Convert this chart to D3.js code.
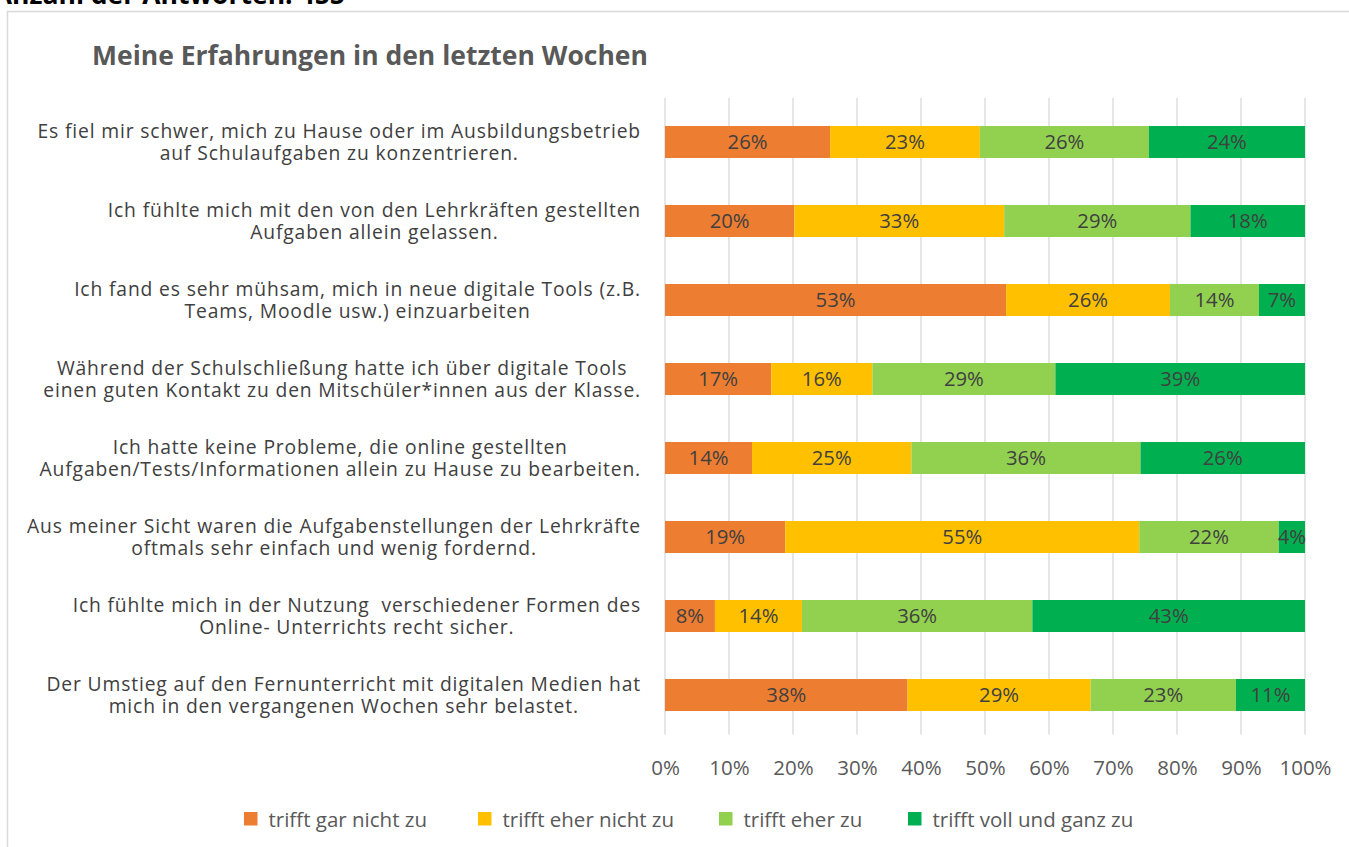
<!DOCTYPE html>
<html><head><meta charset="utf-8">
<script src="https://cdn.jsdelivr.net/npm/d3@7"></script>
<style>
html,body{margin:0;padding:0;background:#fff;overflow:hidden;}
svg{display:block;font-family:"Open Sans","Noto Sans",sans-serif;}
</style></head>
<body>
<svg id="chart" width="1349" height="847"></svg>
<script>
const title = "Meine Erfahrungen in den letzten Wochen";
const topNote = "Anzahl der Antworten: 455";
const categories = [
  ["Es fiel mir schwer, mich zu Hause oder im Ausbildungsbetrieb", "auf Schulaufgaben zu konzentrieren."],
  ["Ich fühlte mich mit den von den Lehrkräften gestellten", "Aufgaben allein gelassen."],
  ["Ich fand es sehr mühsam, mich in neue digitale Tools (z.B.", "Teams, Moodle usw.) einzuarbeiten"],
  ["Während der Schulschließung hatte ich über digitale Tools", "einen guten Kontakt zu den Mitschüler*innen aus der Klasse."],
  ["Ich hatte keine Probleme, die online gestellten", "Aufgaben/Tests/Informationen allein zu Hause zu bearbeiten."],
  ["Aus meiner Sicht waren die Aufgabenstellungen der Lehrkräfte", "oftmals sehr einfach und wenig fordernd."],
  ["Ich fühlte mich in der Nutzung  verschiedener Formen des", "Online- Unterrichts recht sicher."],
  ["Der Umstieg auf den Fernunterricht mit digitalen Medien hat", "mich in den vergangenen Wochen sehr belastet."]
];
const seriesNames = ["trifft gar nicht zu", "trifft eher nicht zu", "trifft eher zu", "trifft voll und ganz zu"];
const garNicht   = [25.8, 20.2, 53.3, 16.6, 13.6, 18.8,  7.8, 37.9];
const eherNicht  = [23.4, 32.8, 25.6, 15.8, 24.9, 55.3, 13.6, 28.6];
const eherZu     = [26.4, 29.1, 13.9, 28.6, 35.8, 21.8, 36.0, 22.7];
const vollGanz   = [24.4, 17.9,  7.2, 39.0, 25.7,  4.1, 42.6, 10.8];
const xTicks = [0,10,20,30,40,50,60,70,80,90,100];
const colors = ["#ED7D31", "#FFC000", "#92D050", "#00B050"];

const seriesVals = [garNicht, eherNicht, eherZu, vollGanz];
const rows = categories.map((c, i) => {
  const o = {idx: i};
  seriesNames.forEach((s, j) => o[s] = seriesVals[j][i]);
  return o;
});

const svg = d3.select("#chart");
const W = 1349, H = 847;
const L = 665, R = 1305, T = 102.5, B = 734.5;
const FF = '"Open Sans","Noto Sans",sans-serif';

// outer frame
svg.append("path").attr("d", `M7.5,${H}V11.5H${W}`).attr("fill","none").attr("stroke","#d9d9d9").attr("stroke-width",1.5);

// top (cut) note
svg.append("text").attr("x", 345).attr("y", 3.5).attr("text-anchor","end")
  .attr("font-weight","bold").attr("font-size", 26.5).attr("fill","#000").text(topNote);

// title
svg.append("text").attr("x", 92).attr("y", 65).attr("font-weight","bold")
  .attr("font-size", 26.5).attr("fill","#595959").text(title);

const x = d3.scaleLinear().domain([0,100]).range([L, R]);
const y = d3.scaleBand().domain(d3.range(categories.length)).range([T, B]).paddingInner(0.595).paddingOuter(0.2975);

// gridlines
svg.append("g").selectAll("line").data(xTicks).join("line")
  .attr("x1", d => x(d)).attr("x2", d => x(d)).attr("y1", 98).attr("y2", B)
  .attr("stroke", "#d9d9d9").attr("stroke-width", 1.3);

// x axis
const xAxis = d3.axisBottom(x).tickValues(xTicks).tickFormat(d => d + "%").tickSize(0).tickPadding(0);
const gx = svg.append("g").attr("transform", `translate(0,${B})`).call(xAxis);
gx.select(".domain").remove();
gx.selectAll("text").attr("font-size", 20.5).attr("fill", "#595959").attr("dy", 0).attr("y", 40)
  .attr("font-family", FF);

// stacked bars
const stack = d3.stack().keys(seriesNames)(rows);
const layers = svg.append("g").selectAll("g").data(stack).join("g").attr("fill", (d, i) => colors[i]);
layers.selectAll("rect").data(d => d).join("rect")
  .attr("x", d => x(d[0])).attr("width", d => x(d[1]) - x(d[0]))
  .attr("y", (d, i) => y(i)).attr("height", y.bandwidth());
layers.selectAll("text").data(d => d).join("text")
  .attr("x", d => (x(d[0]) + x(d[1])) / 2).attr("y", (d, i) => y(i) + y.bandwidth() / 2 + 7.3)
  .attr("text-anchor", "middle").attr("font-size", 20.3).attr("fill", "#404040")
  .text(d => Math.round(d[1] - d[0]) + "%");

// category labels
const catG = svg.append("g");
categories.forEach((lines, i) => {
  const t = catG.append("text").attr("font-size", 19.3).attr("letter-spacing", 0.85)
    .attr("fill", "#404040").attr("text-anchor", "middle").attr("xml:space","preserve");
  lines.forEach((ln, k) => {
    t.append("tspan").attr("x", 0).attr("y", y(i) + y.bandwidth()/2 - 4 + k * 22).text(ln);
  });
  const w = d3.max(t.selectAll("tspan").nodes(), n => n.getComputedTextLength());
  t.selectAll("tspan").attr("x", 641 - w / 2);
});

// legend
const legX = [244, 478, 719, 908];
const leg = svg.append("g");
seriesNames.forEach((s, i) => {
  leg.append("rect").attr("x", legX[i]).attr("y", 812).attr("width", 13.5).attr("height", 13.5).attr("fill", colors[i]);
  leg.append("text").attr("x", legX[i] + 24.5).attr("y", 826.5).attr("font-size", 20.5).attr("fill", "#595959").text(s);
});
</script>
</body></html>
